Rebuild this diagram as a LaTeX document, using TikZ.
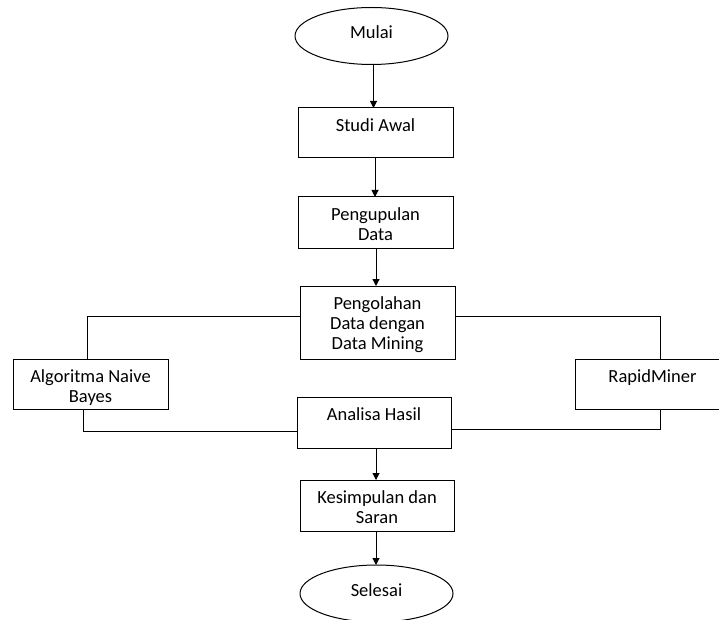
\documentclass[tikz,border=0pt]{standalone}
\usepackage{fontspec}
\setmainfont{Carlito}
\usetikzlibrary{shapes.geometric,arrows.meta}
\begin{document}
\begin{tikzpicture}[x=1pt,y=1pt,
  every node/.style={font=\fontsize{18.5}{20}\selectfont},
  boxnode/.style={draw,line width=1pt,minimum width=#1,inner sep=0pt,outer sep=0pt},
  termnode/.style={draw,ellipse,line width=1pt,minimum width=153pt,minimum height=57pt,inner sep=0pt,outer sep=0pt},
  toptext/.style={label={[anchor=north,yshift=-10pt,align=center,inner sep=0pt]north:#1}},
  midtext/.style={label={[yshift=3.5pt,inner sep=0pt]center:#1}},
  arr/.style={line width=1pt,-{Triangle[length=7pt,width=7pt]}},
  con/.style={line width=1pt}]
\clip (0,0) rectangle (719,-620);
\fill[white] (0,0) rectangle (719,-620);
\node[termnode,midtext=Mulai] (mulai) at (371.5,-36) {};
\node[boxnode=155pt,minimum height=50pt,toptext=Studi Awal] (studi) at (375.5,-133) {};
\node[boxnode=155pt,minimum height=51pt,toptext={Pengupulan\\Data}] (kumpul) at (375.5,-222.5) {};
\node[boxnode=155pt,minimum height=73pt,toptext={Pengolahan\\Data dengan\\Data Mining}] (olah) at (377.5,-322.5) {};
\node[boxnode=155pt,minimum height=50pt,toptext={Algoritma Naive\\Bayes}] (algo) at (90.5,-384) {};
\node[boxnode=155pt,minimum height=50pt,toptext=RapidMiner] (rapid) at (652.5,-384) {};
\node[boxnode=154pt,minimum height=51pt,toptext=Analisa Hasil] (analisa) at (374,-422.5) {};
\node[boxnode=154pt,minimum height=51pt,toptext={Kesimpulan dan\\Saran}] (simpul) at (377,-505.5) {};
\node[termnode,midtext=Selesai] (selesai) at (376.5,-593.5) {};

\draw[arr] ([xshift=2pt]mulai.south) -- ([xshift=2pt]mulai.south |- studi.north);
\draw[arr] ([xshift=-0.5pt]studi.south) -- ([xshift=-0.5pt]studi.south |- kumpul.north);
\draw[arr] ([xshift=0.5pt]kumpul.south) -- ([xshift=0.5pt]kumpul.south |- olah.north);
\draw[arr] ([xshift=2pt]analisa.south) -- ([xshift=2pt]analisa.south |- simpul.north);
\draw[arr] ([xshift=-1pt]simpul.south) -- ([xshift=-1pt]simpul.south |- selesai.north);

\draw[con] ([yshift=6.5pt]olah.west) -| ([xshift=-3.5pt]algo.north);
\draw[con] ([xshift=-7.5pt]algo.south) |- ([yshift=-8.5pt]analisa.west);
\draw[con] ([yshift=6.5pt]olah.east) -| ([xshift=7.5pt]rapid.north);
\draw[con] ([xshift=7.5pt]rapid.south) |- ([yshift=-6.5pt]analisa.east);
\end{tikzpicture}
\end{document}
